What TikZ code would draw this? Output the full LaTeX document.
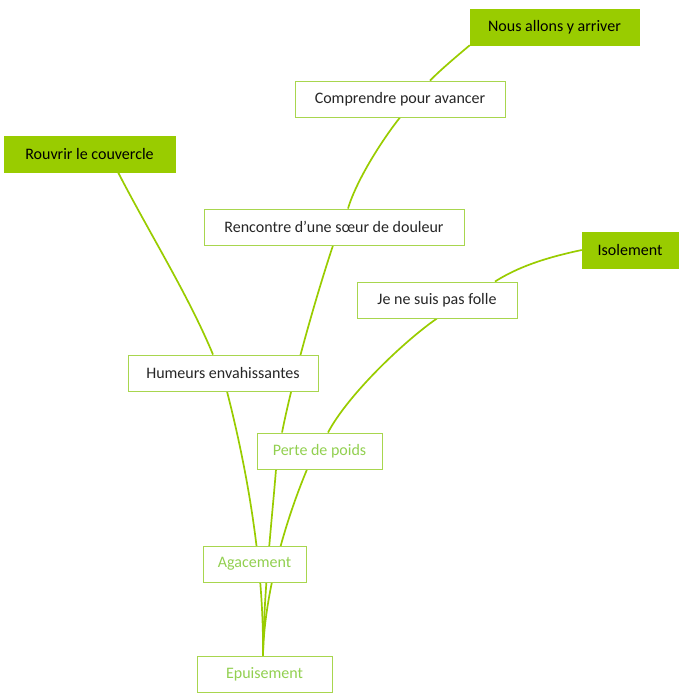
\documentclass[tikz,border=0pt]{standalone}
\usepackage{fontspec}
\setmainfont{Carlito}
\usetikzlibrary{backgrounds}
\definecolor{mapgreen}{HTML}{99CC00}
\definecolor{edgegreen}{HTML}{A8D64E}
\definecolor{textgreen}{HTML}{92D050}
\begin{document}
\begin{tikzpicture}[
x=1pt, y=-1pt,
every node/.style={rectangle, align=center, minimum height=36pt, inner sep=2pt, font=\fontsize{16}{19}\selectfont},
plainbox/.style={draw=edgegreen, line width=0.9pt, fill=white, text=black!85},
goalbox/.style={draw=mapgreen, fill=mapgreen, text=black},
softbox/.style={plainbox, text=textgreen},
branch/.style={draw=mapgreen, line width=1.7pt}
]
\useasboundingbox (0,0) rectangle (683,700);

\node[goalbox, minimum width=169pt] (nous) at (554.5,27) {Nous allons y arriver};
\node[plainbox, minimum width=210pt] (comprendre) at (400,99) {Comprendre pour avancer};
\node[goalbox, minimum width=171pt] (rouvrir) at (89.5,154) {Rouvrir le couvercle};
\node[plainbox, minimum width=260pt] (rencontre) at (334,227) {Rencontre d'une sœur de douleur};
\node[goalbox, minimum width=96pt] (isolement) at (630,250) {Isolement};
\node[plainbox, minimum width=160pt] (folle) at (437,300) {Je ne suis pas folle};
\node[plainbox, minimum width=190pt] (humeurs) at (223,373) {Humeurs envahissantes};
\node[softbox, minimum width=125pt] (perte) at (319.5,451) {Perte de poids};
\node[softbox, minimum width=103pt] (agacement) at (254.5,564) {Agacement};
\node[softbox, minimum width=135pt] (epuisement) at (264.5,674) {Epuisement};

\begin{scope}[on background layer]
\draw[branch] ([xshift=-1.5pt]epuisement.north) .. controls +(1,-96) and +(18,70) .. ([xshift=4pt]humeurs.south);
\draw[branch] ([xshift=-1.5pt]epuisement.north) .. controls +(1,-66) and +(-4,50) .. ([xshift=-43.5pt]perte.south);
\draw[branch] ([xshift=-1.5pt]epuisement.north) .. controls +(1,-56) and +(-25,60) .. ([xshift=-12.5pt]perte.south);
\draw[branch] ([xshift=-10pt]humeurs.north) .. controls +(-25,-60) and +(32,62) .. ([xshift=28.5pt]rouvrir.south);
\draw[branch] ([xshift=-37.5pt]perte.north) .. controls +(12,-60) and +(-15,45) .. ([xshift=-1pt]rencontre.south);
\draw[branch] ([xshift=14pt]rencontre.north) .. controls +(9,-30) and +(-16,20) .. (comprendre.south);
\draw[branch] ([xshift=30pt]comprendre.north) .. controls +(12,-12) and +(-13,11) .. (nous.south west);
\draw[branch] ([xshift=8.5pt]perte.north) .. controls +(20,-38) and +(-32,22) .. (folle.south);
\draw[branch] ([xshift=58pt]folle.north) .. controls +(22,-14) and +(-38,8) .. (isolement.west);
\end{scope}

\end{tikzpicture}
\end{document}
